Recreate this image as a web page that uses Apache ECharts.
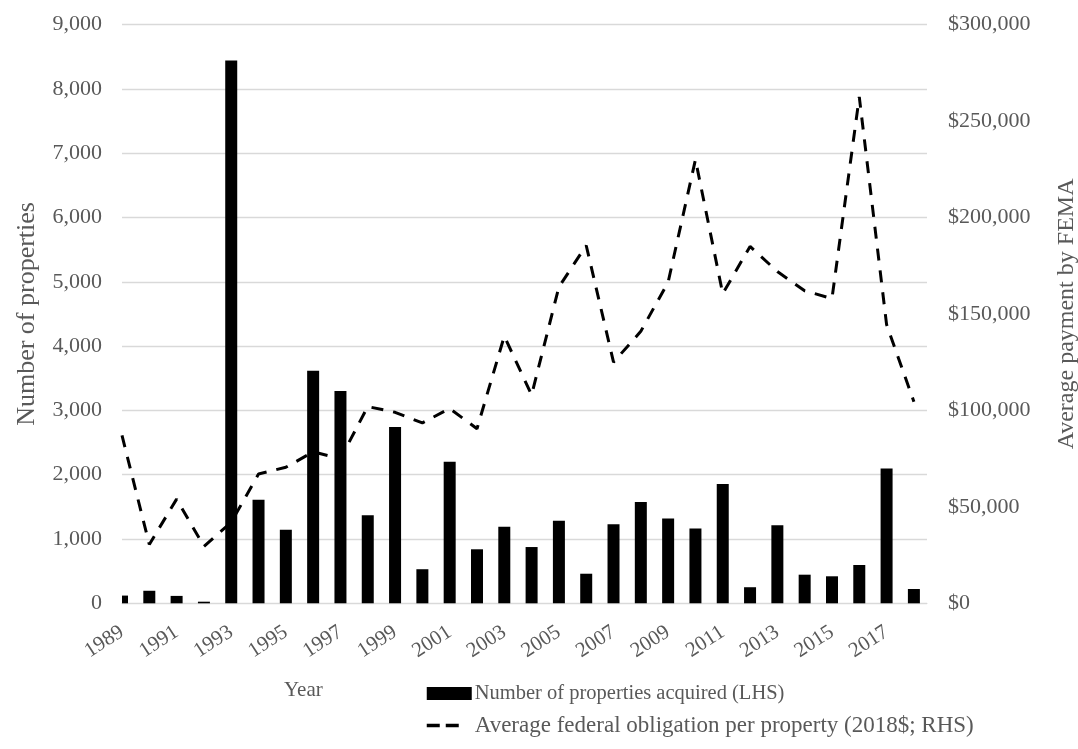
<!DOCTYPE html>
<html>
<head>
<meta charset="utf-8">
<title>Property acquisitions and average federal obligation</title>
<script src="https://cdn.jsdelivr.net/npm/echarts@6/dist/echarts.min.js"></script>
<style>
  html, body { margin: 0; padding: 0; background: #ffffff; }
  #chart { width: 1078px; height: 749px; }
</style>
</head>
<body>
<div id="chart"></div>
<script>
// Fiscal years shown on the horizontal axis
const years = [
  1989, 1990, 1991, 1992, 1993, 1994, 1995, 1996, 1997, 1998,
  1999, 2000, 2001, 2002, 2003, 2004, 2005, 2006, 2007, 2008,
  2009, 2010, 2011, 2012, 2013, 2014, 2015, 2016, 2017, 2018
];

// Number of properties acquired (left axis)
const propertiesAcquired = [
  120, 195, 115, 25, 8440, 1610, 1145, 3617, 3300, 1370,
  2740, 530, 2200, 840, 1190, 875, 1285, 460, 1230, 1575,
  1320, 1165, 1855, 250, 1215, 445, 420, 596, 2095, 222
];

// Average federal obligation per property, 2018 dollars (right axis)
const avgObligation = [
  87000, 30500, 54000, 29500, 42000, 67000, 70500, 78500, 75000, 102000,
  99000, 93500, 101000, 90500, 138500, 108000, 164000, 185500, 125000, 141000,
  166500, 230000, 160500, 185000, 172000, 162000, 158000, 262500, 144500, 104500
];

// Tick settings
const leftAxisMax = 9000;
const leftAxisStep = 1000;
const rightAxisMax = 300000;
const rightAxisStep = 50000;
const yearLabelStep = 2;

const seriesNames = [
  'Number of properties acquired (LHS)',
  'Average federal obligation per property (2018$; RHS)'
];
const axisTitles = {
  x: 'Year',
  left: 'Number of properties',
  right: 'Average payment by FEMA'
};

const FONT = "'Liberation Serif', 'Times New Roman', serif";
const TEXT = '#595959';
const GRID = '#d9d9d9';
const BAR_WIDTH = 12;

const withCommas = v => Math.round(v).toString().replace(/\B(?=(\d{3})+(?!\d))/g, ',');

// Bars are drawn with a custom series so that a bar sitting on the
// plot edge is trimmed to the plot area.
function renderBar(params, api) {
  const year = api.value(0);
  const count = api.value(1);
  const base = api.coord([year, 0]);
  const top = api.coord([year, count]);
  const cs = params.coordSys;
  const shape = echarts.graphic.clipRectByRect(
    { x: base[0] - BAR_WIDTH / 2, y: top[1], width: BAR_WIDTH, height: base[1] - top[1] },
    { x: cs.x, y: cs.y, width: cs.width, height: cs.height }
  );
  return shape && { type: 'rect', shape: shape, style: api.style() };
}

const chart = echarts.init(document.getElementById('chart'), null, { renderer: 'canvas' });

chart.setOption({
  backgroundColor: '#ffffff',
  animation: false,
  textStyle: { fontFamily: FONT, color: TEXT },
  grid: {
    left: 122, top: 24.6, right: 151, bottom: 145.7,
    containLabel: false,
    outerBoundsMode: 'none'
  },
  legend: {
    orient: 'vertical',
    left: 420,
    top: 678,
    itemWidth: 45,
    itemHeight: 13,
    itemGap: 10,
    data: [
      { name: seriesNames[0], icon: 'rect', textStyle: { fontSize: 20.5 } },
      {
        name: seriesNames[1],
        textStyle: { fontSize: 23 },
        itemStyle: { opacity: 0 },
        lineStyle: { type: [13, 6, 13, 20], width: 3.5 }
      }
    ],
    textStyle: { fontFamily: FONT, fontSize: 21, color: TEXT, padding: [0, 0, 0, -2] }
  },
  xAxis: {
    type: 'value',
    min: years[0],
    max: years[years.length - 1] + 0.48,
    interval: 1,
    splitLine: { show: false },
    axisTick: { show: false },
    axisLine: { show: true, lineStyle: { color: GRID, width: 1 } },
    axisLabel: {
      showMaxLabel: false,
      rotate: 33,
      margin: 27,
      fontFamily: FONT,
      fontSize: 21,
      color: TEXT,
      formatter: v => (Number.isInteger(v) && (v - years[0]) % yearLabelStep === 0) ? String(v) : ''
    }
  },
  yAxis: [
    {
      type: 'value',
      min: 0,
      max: leftAxisMax,
      interval: leftAxisStep,
      name: axisTitles.left,
      nameLocation: 'middle',
      nameGap: 82,
      nameTextStyle: { fontFamily: FONT, fontSize: 26, color: TEXT },
      axisLine: { show: false },
      axisTick: { show: false },
      splitLine: { lineStyle: { color: GRID, width: 1.3 } },
      axisLabel: { margin: 20, fontFamily: FONT, fontSize: 22, color: TEXT, formatter: withCommas }
    },
    {
      type: 'value',
      min: 0,
      max: rightAxisMax,
      interval: rightAxisStep,
      name: axisTitles.right,
      nameLocation: 'middle',
      nameGap: 128,
      nameRotate: 90,
      nameTextStyle: { fontFamily: FONT, fontSize: 24, color: TEXT },
      axisLine: { show: false },
      axisTick: { show: false },
      splitLine: { show: false },
      axisLabel: { margin: 21, fontFamily: FONT, fontSize: 22, color: TEXT, formatter: v => '$' + withCommas(v) }
    }
  ],
  graphic: [
    {
      type: 'text',
      left: 284,
      top: 680,
      style: { text: axisTitles.x, fontFamily: FONT, fontSize: 21, fill: TEXT }
    }
  ],
  series: [
    {
      name: seriesNames[0],
      type: 'custom',
      yAxisIndex: 0,
      renderItem: renderBar,
      encode: { x: 0, y: 1 },
      itemStyle: { color: '#000000' },
      data: years.map((y, i) => [y, propertiesAcquired[i]])
    },
    {
      name: seriesNames[1],
      type: 'line',
      yAxisIndex: 1,
      symbol: 'none',
      showSymbol: false,
      z: 3,
      itemStyle: { color: '#000000' },
      lineStyle: { color: '#000000', width: 3, type: [12, 10], cap: 'butt' },
      data: years.map((y, i) => [y, avgObligation[i]])
    }
  ]
});
</script>
</body>
</html>
